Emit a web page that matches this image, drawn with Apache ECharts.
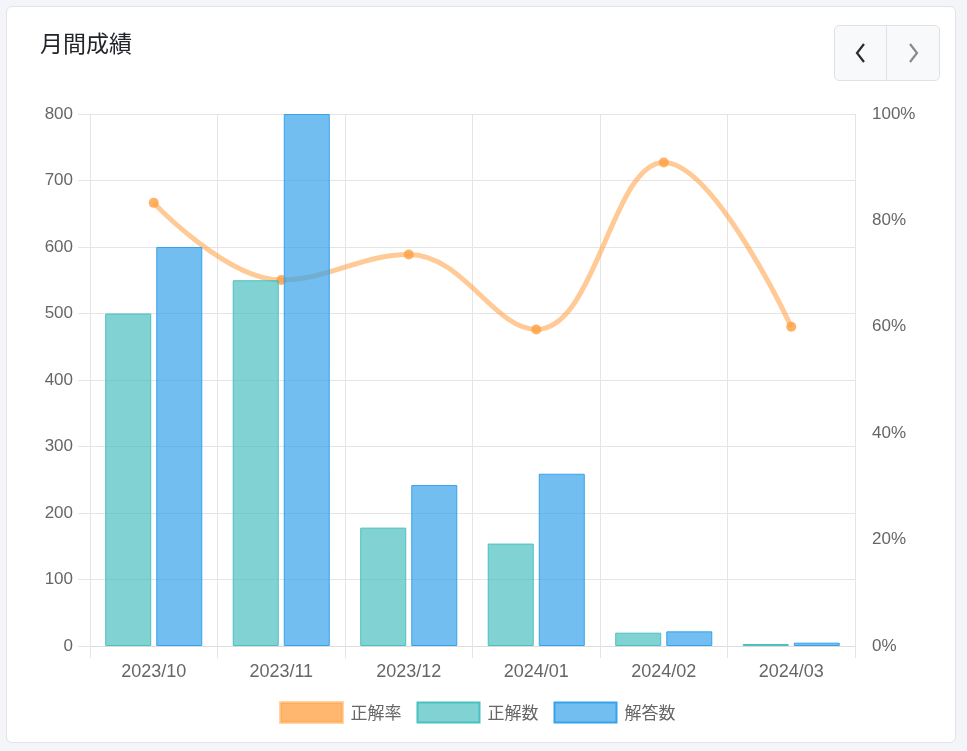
<!DOCTYPE html>
<html>
<head>
<meta charset="utf-8">
<script src="https://cdn.jsdelivr.net/npm/echarts@6/dist/echarts.min.js"></script>
<style>
    html, body { margin: 0; padding: 0; width: 967px; height: 751px; background: #f4f5f9; overflow: hidden; }
    #card { position: absolute; left: 6px; top: 6px; width: 948px; height: 735px; background: #fff;
            border: 1px solid #e2e3e6; border-radius: 6px; }
    #chart { position: absolute; left: 0; top: 0; width: 967px; height: 751px; }
    #nav { position: absolute; left: 834px; top: 25px; width: 104px; height: 54px; border: 1px solid #dee2e6;
           border-radius: 5px; background: #f8f9fa; overflow: hidden; }
    #nav .sep { position: absolute; left: 51px; top: 0; width: 1px; height: 54px; background: #dee2e6; }
    #nav svg { position: absolute; top: 0; left: 0; }
</style>
</head>
<body>
<div id="card"></div>
<div id="chart"></div>
<div id="nav">
    <div class="sep"></div>
    <svg width="104" height="54">
        <polyline points="29,18 22,27 29,36" fill="none" stroke="#2b2b2b" stroke-width="2.2"/>
        <polyline points="75,18 82,27 75,36" fill="none" stroke="#8a8a8a" stroke-width="2.2"/>
    </svg>
</div>
<script>
// 月間成績 データ
var months = ['2023/10', '2023/11', '2023/12', '2024/01', '2024/02', '2024/03'];
var correctCounts = [500, 550, 178, 154, 20, 3];
var answerCounts = [600, 800, 242, 259, 22, 5];
var correctRates = [83.3, 68.8, 73.6, 59.5, 90.9, 60.0];
var leftTicks = [0, 800, 100];
var rightTicks = [0, 100, 20];

var fontFamily = "'Liberation Sans', Arial, 'Noto Sans CJK JP', sans-serif";
var cjkFont = "'Noto Sans CJK JP', sans-serif";
var gridColor = '#e5e5e5';

var chart = echarts.init(document.getElementById('chart'));
var option = {
    animation: false,
    textStyle: { fontFamily: fontFamily },
    title: {
        text: '月間成績',
        left: 35,
        top: 27,
        textStyle: { fontSize: 23, fontWeight: 'normal', color: '#212529', fontFamily: cjkFont }
    },
    legend: {
        left: 274,
        top: 696,
        itemWidth: 62,
        itemHeight: 20,
        itemGap: 15,
        icon: 'rect',
        textStyle: { fontSize: 17, color: '#666', fontFamily: cjkFont, padding: [0, 0, 0, 3] },
        data: [
            { name: '正解率', itemStyle: { color: 'rgba(255,159,64,0.75)', borderColor: 'rgba(255,159,64,0.45)', borderWidth: 3 } },
            { name: '正解数', itemStyle: { color: 'rgba(75,192,192,0.7)', borderColor: 'rgb(75,192,192)', borderWidth: 2 } },
            { name: '解答数', itemStyle: { color: 'rgba(54,162,235,0.7)', borderColor: 'rgb(54,162,235)', borderWidth: 2 } }
        ]
    },
    grid: { left: 90, right: 112, top: 114, bottom: 105 },
    xAxis: {
        type: 'category',
        data: months,
        axisLine: { lineStyle: { color: '#dcdcdc' } },
        axisTick: { show: true, length: 12, lineStyle: { color: gridColor } },
        axisLabel: { color: '#666', fontSize: 18, margin: 17 },
        splitLine: { show: true, lineStyle: { color: gridColor } }
    },
    yAxis: [
        {
            type: 'value',
            min: leftTicks[0],
            max: leftTicks[1],
            interval: leftTicks[2],
            axisLine: { show: true, lineStyle: { color: gridColor } },
            axisTick: { show: true, length: 12, lineStyle: { color: gridColor } },
            axisLabel: { color: '#666', fontSize: 17, margin: 17 },
            splitLine: { lineStyle: { color: gridColor } }
        },
        {
            type: 'value',
            min: rightTicks[0],
            max: rightTicks[1],
            interval: rightTicks[2],
            axisLine: { show: false },
            axisTick: { show: false },
            axisLabel: { color: '#666', fontSize: 17, margin: 17, formatter: '{value}%' },
            splitLine: { show: false }
        }
    ],
    series: [
        {
            name: '正解率',
            type: 'line',
            yAxisIndex: 1,
            z: 1,
            smooth: 0.4,
            data: correctRates,
            symbol: 'circle',
            symbolSize: 10,
            lineStyle: { width: 5, color: 'rgba(255,159,64,0.55)' },
            itemStyle: { color: 'rgba(255,159,64,0.8)' }
        },
        {
            name: '正解数',
            type: 'bar',
            z: 2,
            barWidth: 46,
            barGap: '11%',
            data: correctCounts,
            itemStyle: { color: 'rgba(75,192,192,0.7)', borderColor: 'rgb(75,192,192)', borderWidth: 1 }
        },
        {
            name: '解答数',
            type: 'bar',
            z: 2,
            barWidth: 46,
            data: answerCounts,
            itemStyle: { color: 'rgba(54,162,235,0.7)', borderColor: 'rgb(54,162,235)', borderWidth: 1 }
        }
    ]
};
chart.setOption(option);

// 図表自適応
window.addEventListener('resize', function () {
    chart.resize();
});
</script>
</body>
</html>
